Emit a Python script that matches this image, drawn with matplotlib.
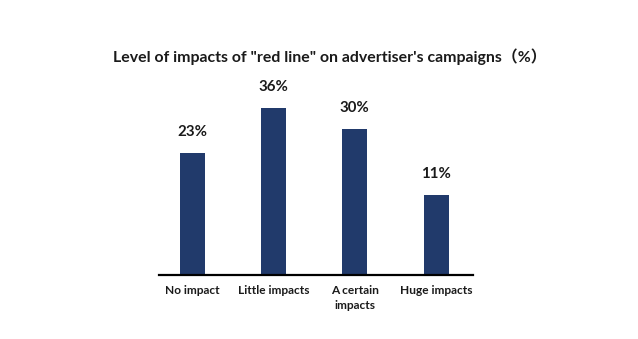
import numpy as np
import matplotlib.pyplot as plt

categories = ['No impact', 'Little impacts', 'A certain\nimpacts', 'Huge impacts']
values = [23, 36, 30, 11]
labels = ['23%', '36%', '30%', '11%']
title = 'Level of impacts of "red line" on advertiser\'s campaigns\uff08%\uff09'

plt.rcParams['font.family'] = ['Lato', 'Noto Sans CJK SC', 'DejaVu Sans']

fig = plt.figure(figsize=(6.38, 3.39), dpi=100)
ax = fig.add_axes([0.249, 0.189, 0.492, 0.575])

# bars rise from a lowered baseline, like the original
base = 12
x = np.arange(len(values))
h = np.array(values) + base
ax.bar(x, h, bottom=-base, width=0.31, color='#213a6b')
for xi, v, lab in zip(x, values, labels):
	ax.text(xi, v + 6, lab, ha='center', va='center', fontsize=10.8, fontweight='bold', color='#1a1a1a')

ax.set_xlim(-0.41, 3.45)
ax.set_ylim(-base, 44.05)
for s in ['top', 'right', 'left']:
	ax.spines[s].set_visible(False)
ax.spines['bottom'].set_linewidth(1.6)
ax.spines['bottom'].set_position(('data', -base))
ax.set_yticks([])
ax.set_xticks(x)
ax.set_xticklabels(categories, fontsize=8.6, fontweight='bold', color='#1a1a1a', va='top', linespacing=1.45)
ax.tick_params(axis='x', length=0, pad=7)

fig.text(0.517, 0.832, title, ha='center', va='center', fontsize=11.4, fontweight='bold', color='#1a1a1a')

fig.savefig('out.png', dpi=100)
